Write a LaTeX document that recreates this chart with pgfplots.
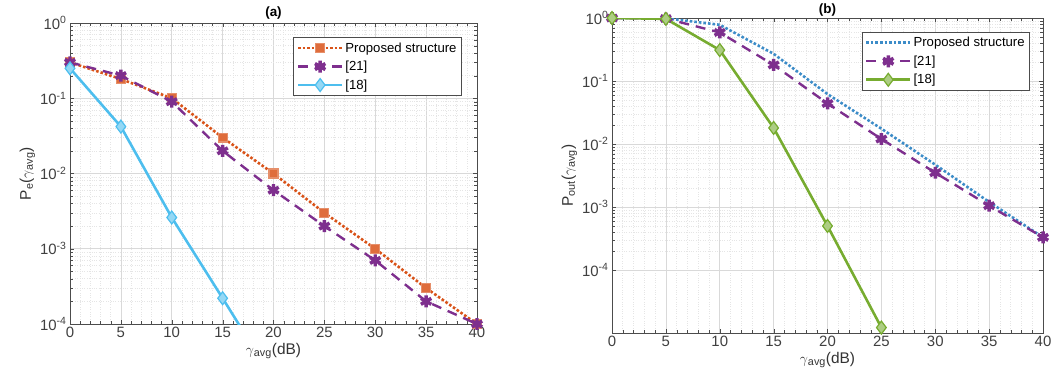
\documentclass[border=0pt]{standalone}
\usepackage{pgfplots}
\pgfplotsset{compat=1.18}
\usepackage{fontspec}
\setmainfont{Liberation Sans}
\definecolor{mOrange}{HTML}{D95319}
\definecolor{mPurple}{HTML}{7E2F8E}
\definecolor{mCyan}{HTML}{4DBEEE}
\definecolor{mBlue}{RGB}{60,140,200}
\definecolor{mGreen}{HTML}{77AC30}
\pgfplotsset{
  mystyle/.style={
    scale only axis,
    xmin=0, xmax=40,
    xtick={0,5,...,40},
    ytick={1e-4,1e-3,1e-2,1e-1,1},
    yticklabels={10\textsuperscript{-4},10\textsuperscript{-3},10\textsuperscript{-2},10\textsuperscript{-1},10\textsuperscript{0}},
    /pgf/number format/assume math mode=true,
    tick label style={font=\fontsize{15}{17}\selectfont, text=black!75},
    label style={font=\fontsize{15.5}{18}\selectfont, text=black!80},
    title style={font=\fontsize{13.5}{15}\selectfont\bfseries},
    grid=both,
    major grid style={gray!30, line width=0.6pt},
    minor grid style={gray!20, dotted, line width=0.6pt},
    axis line style={black!70, line width=0.8pt},
    tick style={black!70},
    minor x tick num=4,
    tick align=inside,
    xlabel={$\gamma$\textsubscript{avg}(dB)},
    xlabel style={yshift=2bp},
    legend style={font=\fontsize{13.2}{15}\selectfont, draw=black!70, line width=0.8pt, fill=white, inner sep=3bp, row sep=3.5bp},
    legend cell align=left,
    legend image code/.code={
      \draw[mark repeat=2,mark phase=2] plot coordinates {(0bp,0bp) (22bp,0bp) (44bp,0bp)};
    },
    clip=true,
  }
}
\begin{document}
\begin{tikzpicture}
\path[use as bounding box] (0,0) rectangle (1055bp,386bp);
% (a)
\begin{axis}[ymode=log, mystyle,
  at={(70bp,62bp)}, anchor=south west,
  width=407bp, height=301bp,
  ymin=1e-4, ymax=1,
  title={(a)}, title style={yshift=-6bp},
  ylabel={P\textsubscript{e}($\gamma$\textsubscript{avg})},
  ylabel style={yshift=-2bp},
  legend style={at={(0.963,0.953)}, anchor=north east},
]
\addplot[mOrange, dotted, line width=2.6pt, mark=square*, mark size=4.5pt, mark options={solid, line width=1.2pt, fill=mOrange!85, draw=mOrange!65!white}]
  coordinates {(0,0.3) (5,0.18) (10,0.1) (15,0.03) (20,0.01) (25,0.003) (30,0.001) (35,0.0003) (40,0.0001)};
\addlegendentry{Proposed structure}
\addplot[mPurple, dashed, dash pattern=on 10pt off 7pt, line width=2.4pt, mark=asterisk, mark size=6pt, mark options={solid, line width=3.5pt}]
  coordinates {(0,0.3) (5,0.2) (10,0.09) (15,0.02) (20,0.006) (25,0.002) (30,0.0007) (35,0.0002) (40,0.0001)};
\addlegendentry{[21]}
\addplot[mCyan, solid, line width=2.6pt, mark=diamond*, mark size=6.5pt, mark options={solid, fill=mCyan!60, line width=1.2pt}]
  coordinates {(0,0.25) (5,0.042) (10,0.0026) (15,0.00022) (20,0.000018)};
\addlegendentry{[18]}
\end{axis}
% (b)
\begin{axis}[ymode=log, mystyle,
  at={(612bp,53bp)}, anchor=south west,
  width=431bp, height=315bp,
  ymin=1e-5, ymax=1,
  title={(b)}, title style={yshift=-8bp},
  ylabel={P\textsubscript{out}($\gamma$\textsubscript{avg})},
  ylabel style={yshift=-2bp},
  legend style={at={(0.97,0.956)}, anchor=north east},
]
\addplot[mBlue, dotted, line width=2.6pt]
  coordinates {(0,1) (5,0.99) (10,0.78) (15,0.27) (20,0.062) (25,0.0175) (30,0.0047) (35,0.0012) (40,0.00033)};
\addlegendentry{Proposed structure}
\addplot[mPurple, dashed, dash pattern=on 10pt off 7pt, line width=2.4pt, mark=asterisk, mark size=6pt, mark options={solid, line width=3.5pt}]
  coordinates {(0,1) (5,0.98) (10,0.59) (15,0.18) (20,0.044) (25,0.012) (30,0.0035) (35,0.00105) (40,0.00033)};
\addlegendentry{[21]}
\addplot[mGreen, solid, line width=2.6pt, mark=diamond*, mark size=6.5pt, mark options={solid, fill=mGreen!60, line width=1.2pt}]
  coordinates {(0,1) (5,0.97) (10,0.31) (15,0.018) (20,0.0005) (25,0.0000122)};
\addlegendentry{[18]}
\end{axis}
\end{tikzpicture}
\end{document}
